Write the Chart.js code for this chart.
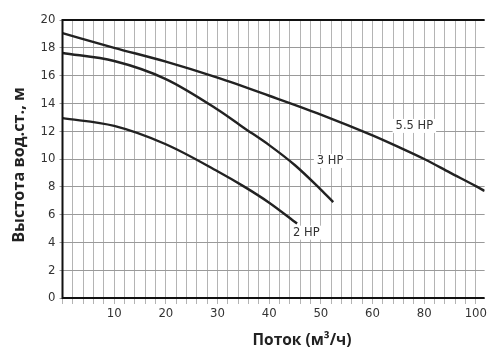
<!DOCTYPE html>
<html>
<head>
<meta charset="utf-8">
<script src="https://cdn.jsdelivr.net/npm/chart.js@4.4.1/dist/chart.umd.min.js"></script>
<style>
  html, body { margin: 0; padding: 0; background: #fff; }
  #wrap { width: 489px; height: 351px; position: relative; }
</style>
</head>
<body>
<div id="wrap"><canvas id="pump"></canvas></div>
<script>
// axis: tick flows are evenly spaced on the picture (0..60 by 10, then 80, 100)
const flowTicks = [0, 10, 20, 30, 40, 50, 60, 80, 100];
const headTicks = [0, 2, 4, 6, 8, 10, 12, 14, 16, 18, 20];

// curves, flow m3/h -> head m
const flow55 = [0, 10, 20, 30, 40, 50, 60, 70, 80, 90, 100, 103.4];
const head55 = [19.05, 18.0, 17.0, 15.85, 14.55, 13.2, 11.7, 10.87, 10.0, 9.02, 8.05, 7.7];

const flow3 = [0, 10, 20, 30, 35, 40, 45, 50, 52.4];
const head3 = [17.63, 17.05, 15.75, 13.56, 12.27, 11.0, 9.55, 7.8, 6.9];

const flow2 = [0, 10, 20, 30, 35, 40, 45.4];
const head2 = [12.94, 12.38, 11.06, 9.12, 8.05, 6.86, 5.36];

const curveNames = ["5.5 HP", "3 HP", "2 HP"];
// label anchors (flow, head)
const labelFlow = [76.2, 51.8, 47.2];
const labelHead = [12.38, 9.86, 4.7];

// flow value -> even tick position
function flowToPos(f) {
  for (let i = 1; i < flowTicks.length; i++) {
    if (f <= flowTicks[i] || i == flowTicks.length - 1) {
      const a = flowTicks[i - 1], b = flowTicks[i];
      return (i - 1) + (f - a) / (b - a);
    }
  }
}

const toPoints = (fl, hd) => fl.map((f, i) => ({ x: flowToPos(f), y: hd[i] }));

const tickFont = { family: "'Liberation Sans Narrow', 'DejaVu Sans Condensed', sans-serif", size: 13 };

const lineDs = (name, fl, hd) => ({
  label: name,
  data: toPoints(fl, hd),
  borderColor: "#222",
  borderWidth: 2.4,
  pointRadius: 0,
  fill: false,
  cubicInterpolationMode: "monotone",
});

// draws axis titles, curve labels and the black frame
const extras = {
  id: "extras",
  afterDatasetsDraw(chart) {
    const { ctx, chartArea: ca, scales } = chart;
    ctx.save();
    ctx.font = "11.5px 'DejaVu Sans', sans-serif";
    ctx.textAlign = "center";
    ctx.textBaseline = "middle";
    curveNames.forEach((name, i) => {
      const px = scales.x.getPixelForValue(flowToPos(labelFlow[i]));
      const py = scales.y.getPixelForValue(labelHead[i]);
      const w = ctx.measureText(name).width + 6;
      ctx.fillStyle = "#fff";
      ctx.fillRect(px - w / 2, py - 7, w, 14);
      ctx.fillStyle = "#333";
      ctx.fillText(name, px, py);
    });

    ctx.strokeStyle = "#111";
    ctx.lineWidth = 2;
    ctx.beginPath();
    ctx.moveTo(ca.right, ca.top);
    ctx.lineTo(ca.left, ca.top);
    ctx.lineTo(ca.left, ca.bottom);
    ctx.lineTo(ca.right, ca.bottom);
    ctx.stroke();

    ctx.fillStyle = "#222";
    ctx.font = "bold 15.5px 'Open Sans', 'DejaVu Sans', sans-serif";
    ctx.fillText("Поток (м³/ч)", 302, 341);
    ctx.font = "bold 16.3px 'Open Sans', 'DejaVu Sans', sans-serif";
    ctx.translate(19, 165);
    ctx.rotate(-Math.PI / 2);
    ctx.fillText("Выстота вод.ст., м", 0, 0);
    ctx.restore();
  },
};

new Chart(document.getElementById("pump"), {
  type: "line",
  data: {
    datasets: [
      lineDs(curveNames[0], flow55, head55),
      lineDs(curveNames[1], flow3, head3),
      lineDs(curveNames[2], flow2, head2),
    ],
  },
  plugins: [extras],
  options: {
    responsive: true,
    maintainAspectRatio: false,
    animation: false,
    layout: { padding: { top: 20, right: 0, left: 0, bottom: 0 } },
    plugins: { legend: { display: false }, tooltip: { enabled: false } },
    scales: {
      x: {
        type: "linear",
        min: 0,
        max: 8.17,
        afterFit: (s) => { s.height = 53; },
        afterBuildTicks: (s) => {
          const t = [];
          for (let i = 0; i <= 40; i++) t.push({ value: i * 0.2 });
          s.ticks = t;
        },
        grid: {
          color: "#b4b4b4",
          lineWidth: 1,
          tickLength: 6,
          drawTicks: true,
        },
        border: { display: false },
        ticks: {
          autoSkip: false,
          maxRotation: 0,
          padding: 2,
          color: "#333",
          font: tickFont,
          callback: (v) => {
            const k = Math.round(v * 5);
            if (k % 5 != 0 || k == 0) return "";
            return String(flowTicks[k / 5]);
          },
        },
      },
      y: {
        min: 0,
        max: 20,
        afterFit: (s) => { s.width = 62.5; },
        afterBuildTicks: (s) => { s.ticks = headTicks.map((v) => ({ value: v })); },
        grid: { color: "#9a9a9a", lineWidth: 1, tickLength: 3 },
        border: { display: false },
        ticks: { color: "#333", font: tickFont, padding: 4 },
      },
    },
  },
});
</script>
</body>
</html>
